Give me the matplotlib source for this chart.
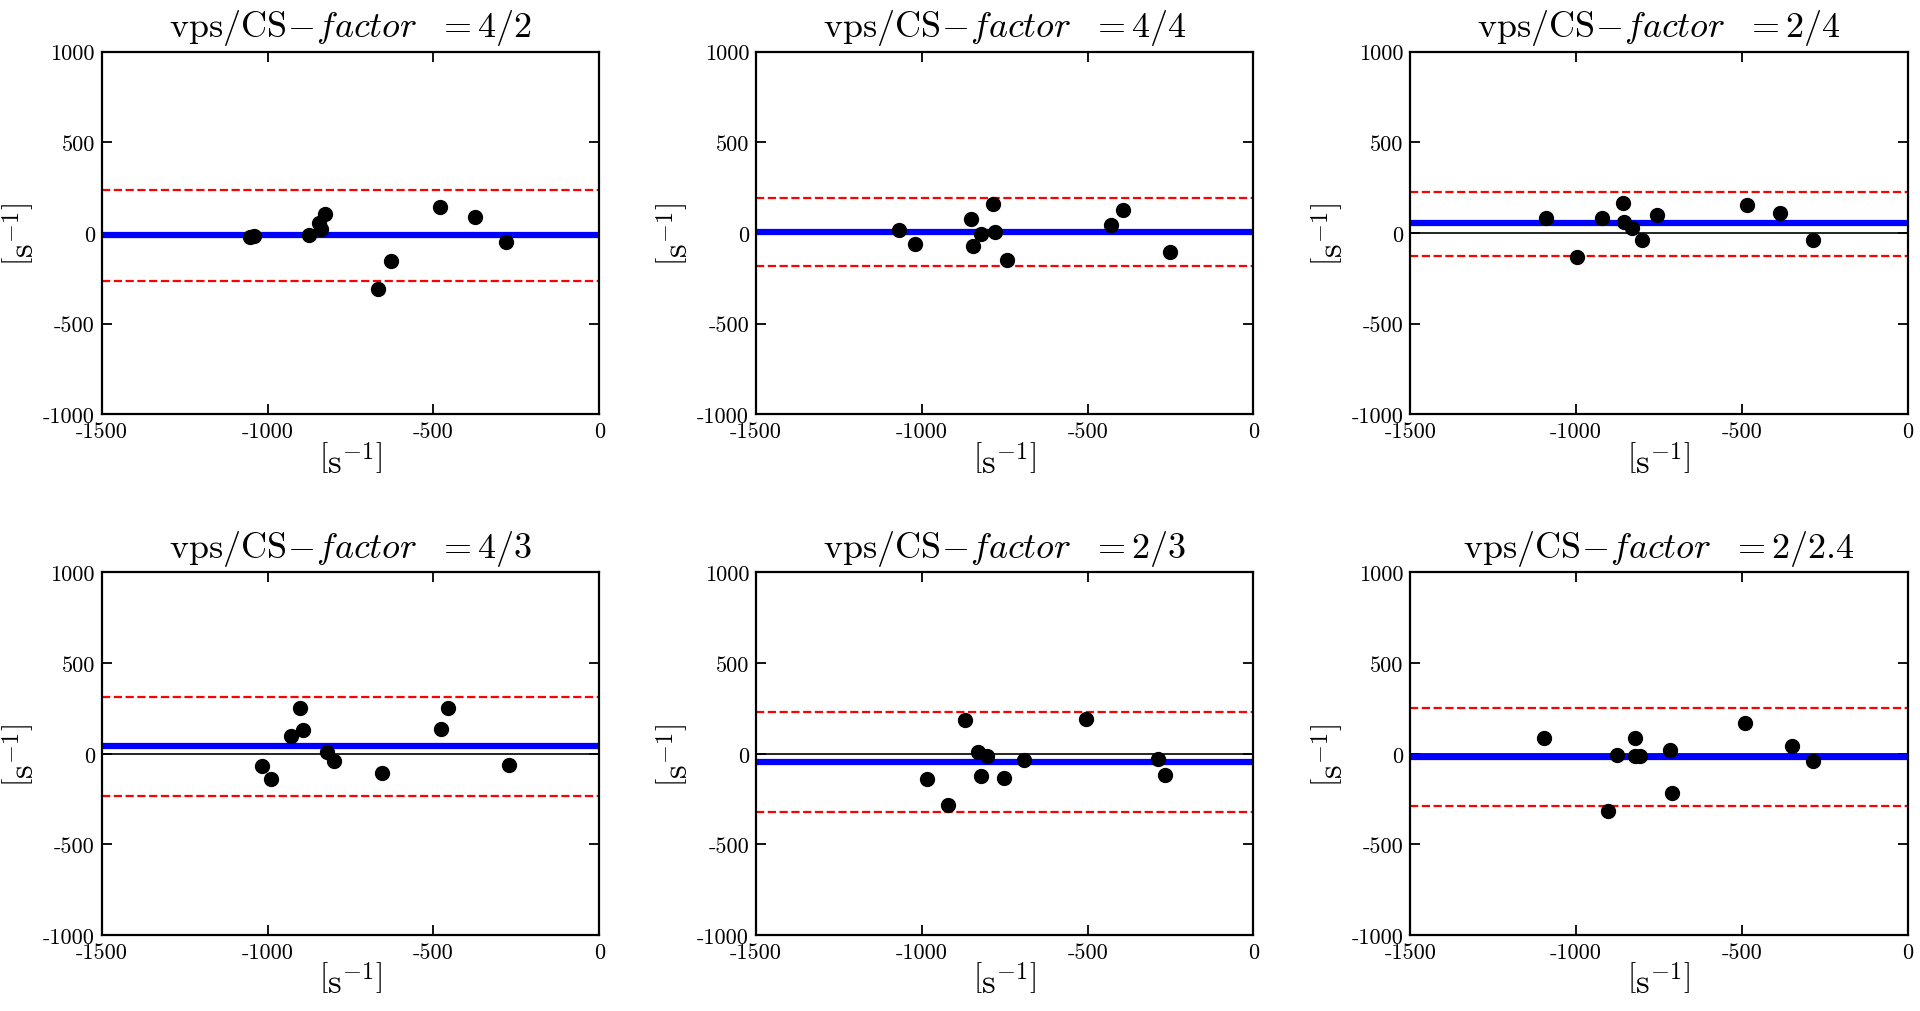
import numpy as np
import matplotlib
matplotlib.use('Agg')
import matplotlib.pyplot as plt

plt.rcParams['font.family'] = 'serif'
plt.rcParams['font.serif'] = ['cmr10']
plt.rcParams['mathtext.fontset'] = 'cm'
plt.rcParams['axes.unicode_minus'] = False
plt.rcParams['axes.formatter.use_mathtext'] = False

# vps/CS factor per panel
factors = ['4/2', '4/4', '2/4', '4/3', '2/3', '2/2.4']

# x = mean of the two methods, y = difference
x_42 = [-1052, -1042, -875, -844, -838, -826, -666, -629, -479, -375, -281]
y_42 = [-25, -18, -11, 57, 24, 103, -307, -154, 142, 90, -51]

x_44 = [-1069, -1022, -853, -846, -823, -786, -780, -744, -430, -393, -253]
y_44 = [17, -61, 75, -74, -6, 160, 7, -149, 46, 127, -103]

x_24 = [-1092, -996, -921, -858, -855, -831, -801, -756, -486, -385, -287]
y_24 = [85, -131, 83, 164, 61, 28, -37, 99, 156, 112, -37]

x_43 = [-1018, -991, -929, -901, -892, -820, -801, -654, -476, -455, -272]
y_43 = [-69, -141, 97, 253, 130, 8, -38, -106, 135, 253, -63]

x_23 = [-983, -920, -869, -832, -821, -804, -753, -693, -504, -289, -268]
y_23 = [-141, -282, 185, 10, -120, -14, -133, -32, 192, -30, -119]

x_224 = [-1097, -903, -878, -821, -821, -807, -716, -712, -492, -349, -287]
y_224 = [87, -316, -8, 87, -10, -12, 21, -214, 167, 41, -41]

xs = [x_42, x_44, x_24, x_43, x_23, x_224]
ys = [y_42, y_44, y_24, y_43, y_23, y_224]

# bias and limits of agreement
bias = [-13, 4, 53, 41, -43, -19]
loa_upper = [235, 193, 228, 314, 231, 253]
loa_lower = [-263, -182, -125, -231, -319, -288]

fig, axes = plt.subplots(2, 3, figsize=(19.2, 10.12), dpi=100)
fig.subplots_adjust(left=0.053, right=0.9936, bottom=0.075, top=0.948,
                    wspace=0.315, hspace=0.436)

for i, ax in enumerate(axes.flat):
    ax.axhline(0, color='black', lw=1.2, zorder=1)
    ax.axhline(bias[i], color='#0000ff', lw=4.5, zorder=2)
    ax.axhline(loa_upper[i], color='red', lw=1.6, ls='--', zorder=2)
    ax.axhline(loa_lower[i], color='red', lw=1.6, ls='--', zorder=2)
    ax.plot(xs[i], ys[i], 'o', color='black', ms=10, zorder=3)

    ax.set_xlim(-1500, 0)
    ax.set_ylim(-1000, 1000)
    ax.set_xticks([-1500, -1000, -500, 0])
    ax.set_yticks([-1000, -500, 0, 500, 1000])
    ax.tick_params(direction='in', top=True, right=True, length=7, width=1.3,
                   labelsize=16, pad=5)
    for sp in ax.spines.values():
        sp.set_linewidth(1.6)
    ax.set_xlabel(r'$\left[\mathrm{s}^{-1}\right]$', fontsize=25, labelpad=2)
    ax.set_ylabel(r'$\left[\mathrm{s}^{-1}\right]$', fontsize=25, labelpad=2)
    ax.set_title(r'$\mathrm{vps/CS}\!-\!factor\ \ =' + factors[i] + '$',
                 fontsize=26, pad=11)

plt.savefig('out.png')
plt.close()
